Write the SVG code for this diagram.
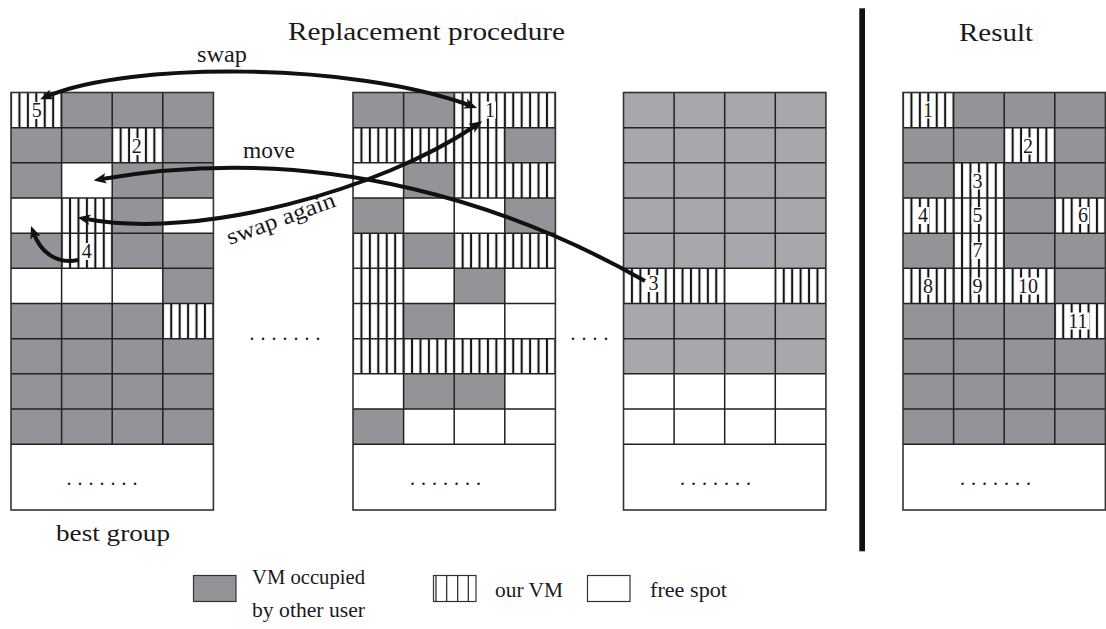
<svg xmlns="http://www.w3.org/2000/svg" width="1106" height="629" viewBox="0 0 1106 629">
<style>
text{font-family:"Liberation Serif","DejaVu Serif",serif;fill:#1a1a1a}
.g{fill:#939498}
.gl{fill:#a7a8ab}
.s{fill:url(#stripes)}
.grid{fill:none;stroke:#222;stroke-width:1.5}
.frame{fill:none;stroke:#333;stroke-width:1.6}
.lb{fill:#fff}
.num{font-size:20px;text-anchor:middle}
.dots{font-size:20px;letter-spacing:6px}
.lab{font-size:23px}
.title{font-size:26px}
.leg{font-size:22px}
.arr{fill:none;stroke:#111;stroke-width:4;stroke-linecap:butt}
</style>
<defs>
<pattern id="stripes" patternUnits="userSpaceOnUse" x="0" y="0" width="8.4333" height="10">
<rect x="0" y="0" width="8.4333" height="10" fill="#fff"/>
<rect x="0" y="0" width="1.05" height="10" fill="#151515"/>
<rect x="7.3833" y="0" width="1.05" height="10" fill="#151515"/>
</pattern>
<marker id="ah" viewBox="0 0 12 10" refX="4" refY="5" markerWidth="3.2" markerHeight="2.7" orient="auto-start-reverse" markerUnits="strokeWidth">
<path d="M0,0 L12,5 L0,10 L3,5 z" fill="#111"/>
</marker>
</defs>
<rect width="1106" height="629" fill="#fff"/>

<text class="title" x="288" y="40" textLength="277" lengthAdjust="spacingAndGlyphs">Replacement procedure</text>
<text class="title" x="959" y="41" textLength="74" lengthAdjust="spacingAndGlyphs">Result</text>
<rect x="859.3" y="8.3" width="5.7" height="543" fill="#111"/>

<g id="grid1" transform="translate(11,92.5)">
<rect x="0" y="0" width="202.4" height="417.5" fill="#fff"/>
<rect class="g" x="50.6" y="0" width="151.8" height="35.17"/>
<rect class="g" x="0" y="35.17" width="101.2" height="35.17"/>
<rect class="g" x="151.8" y="35.17" width="50.6" height="35.17"/>
<rect class="g" x="0" y="70.34" width="50.6" height="35.17"/>
<rect class="g" x="101.2" y="70.34" width="101.2" height="35.17"/>
<rect class="g" x="101.2" y="105.51" width="50.6" height="35.17"/>
<rect class="g" x="0" y="140.68" width="50.6" height="35.17"/>
<rect class="g" x="101.2" y="140.68" width="101.2" height="35.17"/>
<rect class="g" x="151.8" y="175.85" width="50.6" height="35.17"/>
<rect class="g" x="0" y="211.02" width="151.8" height="35.17"/>
<rect class="g" x="0" y="246.19" width="202.4" height="105.51"/>
<rect class="s" x="0" y="0" width="50.6" height="35.17"/>
<rect class="s" x="101.2" y="35.17" width="50.6" height="35.17"/>
<rect class="s" x="50.6" y="105.51" width="50.6" height="70.34"/>
<rect class="s" x="151.8" y="211.02" width="50.6" height="35.17"/>
<path class="grid" d="M50.6,0V351.7M101.2,0V351.7M151.8,0V351.7M0,35.17H202.4M0,70.34H202.4M0,105.51H202.4M0,140.68H202.4M0,175.85H202.4M0,211.02H202.4M0,246.19H202.4M0,281.36H202.4M0,316.53H202.4M0,351.7H202.4"/>
<rect class="frame" x="0" y="0" width="202.4" height="417.5"/>
<rect class="lb" x="19" y="9.5" width="13" height="17"/><text class="num" x="25.7" y="24.8">5</text>
<rect class="lb" x="119" y="45.5" width="13" height="17"/><text class="num" x="125.7" y="60.6">2</text>
<rect class="lb" x="69" y="150.5" width="13" height="17"/><text class="num" x="75.7" y="165.8">4</text>
<text class="dots" x="55.5" y="392.3">.......</text>
</g>

<g id="grid2" transform="translate(353,92.5)">
<rect x="0" y="0" width="202.4" height="417.5" fill="#fff"/>
<rect class="g" x="0" y="0" width="101.2" height="35.17"/>
<rect class="g" x="151.8" y="35.17" width="50.6" height="35.17"/>
<rect class="g" x="50.6" y="70.34" width="50.6" height="35.17"/>
<rect class="g" x="0" y="105.51" width="50.6" height="35.17"/>
<rect class="g" x="151.8" y="105.51" width="50.6" height="35.17"/>
<rect class="g" x="50.6" y="140.68" width="50.6" height="35.17"/>
<rect class="g" x="101.2" y="175.85" width="50.6" height="35.17"/>
<rect class="g" x="50.6" y="211.02" width="50.6" height="35.17"/>
<rect class="g" x="50.6" y="281.36" width="101.2" height="35.17"/>
<rect class="g" x="0" y="316.53" width="50.6" height="35.17"/>
<rect class="s" x="101.2" y="0" width="101.2" height="35.17"/>
<rect class="s" x="0" y="35.17" width="151.8" height="35.17"/>
<rect class="s" x="101.2" y="70.34" width="101.2" height="35.17"/>
<rect class="s" x="0" y="140.68" width="50.6" height="35.17"/>
<rect class="s" x="101.2" y="140.68" width="101.2" height="35.17"/>
<rect class="s" x="0" y="175.85" width="50.6" height="70.34"/>
<rect class="s" x="0" y="246.19" width="202.4" height="35.17"/>
<path class="grid" d="M50.6,0V351.7M101.2,0V351.7M151.8,0V351.7M0,35.17H202.4M0,70.34H202.4M0,105.51H202.4M0,140.68H202.4M0,175.85H202.4M0,211.02H202.4M0,246.19H202.4M0,281.36H202.4M0,316.53H202.4M0,351.7H202.4"/>
<rect class="frame" x="0" y="0" width="202.4" height="417.5"/>
<rect class="lb" x="131" y="9" width="12" height="17"/><text class="num" x="137" y="24.3">1</text>
<text class="dots" x="57" y="392.3">.......</text>
</g>

<g id="grid3" transform="translate(623.5,92.5)">
<rect x="0" y="0" width="202.4" height="417.5" fill="#fff"/>
<rect class="gl" x="0" y="0" width="202.4" height="175.85"/>
<rect class="gl" x="0" y="211.02" width="202.4" height="70.34"/>
<rect class="s" x="0" y="175.85" width="101.2" height="35.17"/>
<rect class="s" x="151.8" y="175.85" width="50.6" height="35.17"/>
<path class="grid" d="M50.6,0V351.7M101.2,0V351.7M151.8,0V351.7M0,35.17H202.4M0,70.34H202.4M0,105.51H202.4M0,140.68H202.4M0,175.85H202.4M0,211.02H202.4M0,246.19H202.4M0,281.36H202.4M0,316.53H202.4M0,351.7H202.4"/>
<rect class="frame" x="0" y="0" width="202.4" height="417.5"/>
<rect class="lb" x="23.5" y="182.5" width="13" height="17"/><text class="num" x="30" y="197.8">3</text>
<text class="dots" x="56.5" y="392.3">.......</text>
</g>

<g id="grid4" transform="translate(903,92.5)">
<rect x="0" y="0" width="202.4" height="417.5" fill="#fff"/>
<rect class="g" x="50.6" y="0" width="151.8" height="35.17"/>
<rect class="g" x="0" y="35.17" width="101.2" height="35.17"/>
<rect class="g" x="151.8" y="35.17" width="50.6" height="35.17"/>
<rect class="g" x="0" y="70.34" width="50.6" height="35.17"/>
<rect class="g" x="101.2" y="70.34" width="101.2" height="35.17"/>
<rect class="g" x="101.2" y="105.51" width="50.6" height="35.17"/>
<rect class="g" x="0" y="140.68" width="50.6" height="35.17"/>
<rect class="g" x="101.2" y="140.68" width="101.2" height="35.17"/>
<rect class="g" x="151.8" y="175.85" width="50.6" height="35.17"/>
<rect class="g" x="0" y="211.02" width="151.8" height="35.17"/>
<rect class="g" x="0" y="246.19" width="202.4" height="105.51"/>
<rect class="s" x="0" y="0" width="50.6" height="35.17"/>
<rect class="s" x="101.2" y="35.17" width="50.6" height="35.17"/>
<rect class="s" x="50.6" y="70.34" width="50.6" height="35.17"/>
<rect class="s" x="0" y="105.51" width="101.2" height="35.17"/>
<rect class="s" x="151.8" y="105.51" width="50.6" height="35.17"/>
<rect class="s" x="50.6" y="140.68" width="50.6" height="35.17"/>
<rect class="s" x="0" y="175.85" width="151.8" height="35.17"/>
<rect class="s" x="151.8" y="211.02" width="50.6" height="35.17"/>
<path class="grid" d="M50.6,0V351.7M101.2,0V351.7M151.8,0V351.7M0,35.17H202.4M0,70.34H202.4M0,105.51H202.4M0,140.68H202.4M0,175.85H202.4M0,211.02H202.4M0,246.19H202.4M0,281.36H202.4M0,316.53H202.4M0,351.7H202.4"/>
<rect class="frame" x="0" y="0" width="202.4" height="417.5"/>
<rect class="lb" x="19" y="9" width="12" height="17"/><text class="num" x="25" y="24.3">1</text>
<rect class="lb" x="119" y="45" width="12" height="17"/><text class="num" x="125" y="60.3">2</text>
<rect class="lb" x="68.5" y="80" width="12" height="17"/><text class="num" x="74.5" y="95.3">3</text>
<rect class="lb" x="14" y="114.5" width="12" height="17"/><text class="num" x="20" y="129.8">4</text>
<rect class="lb" x="68.5" y="114.5" width="12" height="17"/><text class="num" x="74.5" y="129.8">5</text>
<rect class="lb" x="174" y="114.5" width="12" height="17"/><text class="num" x="180" y="129.8">6</text>
<rect class="lb" x="68.5" y="149.5" width="12" height="17"/><text class="num" x="74.5" y="164.8">7</text>
<rect class="lb" x="19" y="185" width="12" height="17"/><text class="num" x="25" y="200.3">8</text>
<rect class="lb" x="68.5" y="185" width="12" height="17"/><text class="num" x="74.5" y="200.3">9</text>
<rect class="lb" x="113" y="185" width="24" height="17"/><text class="num" x="125" y="200.3">10</text>
<rect class="lb" x="163.5" y="220" width="23" height="17"/><text class="num" x="175" y="235.3">11</text>
<text class="dots" x="57" y="392.3">.......</text>
</g>

<text class="dots" x="249.5" y="339.5">.......</text>
<text class="dots" x="570.5" y="339.5">....</text>

<g id="connectors">
<path class="arr" d="M48,96 C130,62 350,62 469,105" marker-start="url(#ah)" marker-end="url(#ah)"/>
<path class="arr" d="M645,281 C520,210 330,140 102,179" marker-end="url(#ah)"/>
<path class="arr" d="M86,219 C200,240 380,190 475,126" marker-start="url(#ah)" marker-end="url(#ah)"/>
<path class="arr" d="M78,260 C55,265 40,250 34,234" marker-end="url(#ah)"/>
<text class="lab" x="197" y="62" textLength="50" lengthAdjust="spacingAndGlyphs">swap</text>
<text class="lab" x="243" y="158" textLength="52" lengthAdjust="spacingAndGlyphs">move</text>
<text class="lab" x="281" y="226" text-anchor="middle" textLength="114" lengthAdjust="spacingAndGlyphs" transform="rotate(-20 281 219)">swap again</text>
</g>

<text class="lab" x="56" y="541" textLength="114" lengthAdjust="spacingAndGlyphs">best group</text>

<g id="legend">
<rect x="193.5" y="575.5" width="42.5" height="26" fill="#939498" stroke="#333" stroke-width="1.2"/>
<text class="leg" x="252" y="584" textLength="113" lengthAdjust="spacingAndGlyphs">VM occupied</text>
<text class="leg" x="252" y="617" textLength="113" lengthAdjust="spacingAndGlyphs">by other user</text>
<rect x="433.5" y="575.5" width="42.5" height="26" fill="#fff" stroke="#333" stroke-width="1.2"/>
<path d="M436,575.5V601.5M446.7,575.5V601.5M457.7,575.5V601.5M468.3,575.5V601.5" stroke="#222" stroke-width="1.2"/>
<text class="leg" x="495" y="597" textLength="68" lengthAdjust="spacingAndGlyphs">our VM</text>
<rect x="587.5" y="575.5" width="42.5" height="26" fill="#fff" stroke="#333" stroke-width="1.2"/>
<text class="leg" x="650" y="597" textLength="77" lengthAdjust="spacingAndGlyphs">free spot</text>
</g>
</svg>
